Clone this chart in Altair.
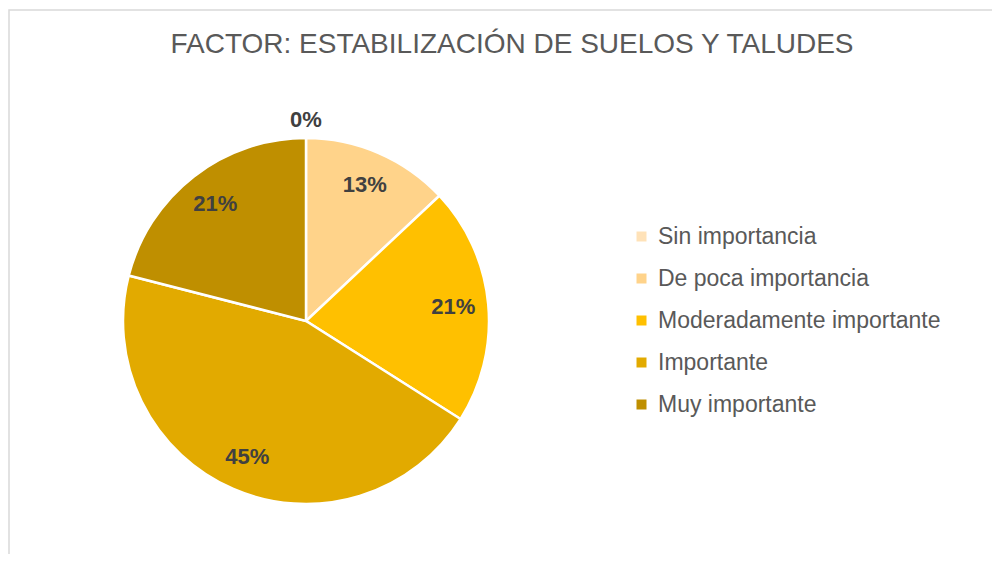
import altair as alt
import pandas as pd

categories = ["Sin importancia", "De poca importancia", "Moderadamente importante", "Importante", "Muy importante"]
values = [0, 13, 21, 45, 21]
colors = ["#FFE2B8", "#FFD38A", "#FFC000", "#E2AA00", "#BF8F00"]
title_text = "FACTOR: ESTABILIZACIÓN DE SUELOS Y TALUDES"

df = pd.DataFrame({
    "cat": categories,
    "val": values,
    "order": list(range(len(categories))),
})
df["lab"] = [f"{v}%" for v in values]

CX, CY = 298, 253
R = 183

color = alt.Color("cat:N", scale=alt.Scale(domain=categories, range=colors),
                  sort=categories,
                  legend=alt.Legend(title=None, orient="none", legendX=622, legendY=157,
                                    labelFontSize=23, labelFont="Liberation Sans",
                                    labelColor="#595959", symbolType="square",
                                    symbolSize=100, symbolStrokeWidth=0,
                                    rowPadding=18, labelOffset=5, labelLimit=400))

base = alt.Chart(df).encode(
    theta=alt.Theta("val:Q", stack=True),
    order=alt.Order("order:Q", sort="ascending"),
)

pie = base.mark_arc(x=CX, y=CY, outerRadius=R, stroke="white", strokeWidth=2.5).encode(color=color)

txt = base.mark_text(x=CX, y=CY, radius=148, font="Liberation Sans", fontSize=22,
                     fontWeight="bold", color="#404040").encode(text="lab:N").transform_filter("datum.val > 0")
txt0 = base.mark_text(x=CX, y=CY, radius=201, font="Liberation Sans", fontSize=22,
                      fontWeight="bold", color="#404040").encode(text="lab:N").transform_filter("datum.val == 0")

one = pd.DataFrame({"t": [title_text]})
border = alt.Chart(one).mark_rect(fill=None, stroke="#d9d9d9", strokeWidth=1.5).encode(
    x=alt.value(1), x2=alt.value(1000), y=alt.value(-58), y2=alt.value(600)
)
title = alt.Chart(one).mark_text(font="Liberation Sans", fontSize=28, color="#595959",
                                 align="center", baseline="middle").encode(
    text="t:N", x=alt.value(504), y=alt.value(-23)
)

chart = alt.layer(border, title, pie, txt, txt0).properties(
    width=984, height=486, autosize="none",
    padding={"top": 60, "left": 0, "right": 0, "bottom": 0},
).configure_view(stroke=None)

chart.save("out.html", embed_options={"renderer": "svg", "actions": False})
